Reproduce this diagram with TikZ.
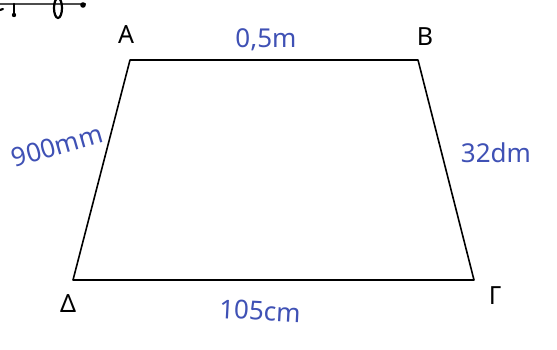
\documentclass[tikz,border=0pt]{standalone}
\usepackage{fontspec}
\setmainfont{Noto Sans}
\definecolor{ink}{RGB}{63,81,181}
\begin{document}
\begin{tikzpicture}[x=1pt,y=-1pt,
  edge/.style={line width=1.6pt,black,line join=round},
  vlabel/.style={font=\fontsize{25}{27}\selectfont,black,inner sep=0pt},
  mlabel/.style={font=\fontsize{26}{28}\selectfont,text=ink,inner sep=0pt}]
\useasboundingbox[fill=white] (0,0) rectangle (557,349);
% scribble at top left
\draw[gray!60!black,line width=1.2pt] (0,4) -- (86,4);
\draw[line width=2.2pt,line cap=round] (14,4) -- (14,14);
\fill (14,15) circle (2.2pt);
\draw[line width=2.2pt] (58,8) ellipse (4pt and 10pt);
\fill (83,5) circle (2.8pt);
\draw[line width=2.2pt,line cap=round] (0,10) -- (3,9);
% vertices
\coordinate (A) at (130,60);
\coordinate (B) at (418,60);
\coordinate (G) at (474,280);
\coordinate (D) at (73,280);
\draw[edge] (A) -- (B) -- (G) -- (D) -- cycle;
% vertex labels
\node[vlabel] (lA) at (126,35) {A};
\node[vlabel] (lB) at (425,37) {B};
\node[vlabel] (lG) at (495,296) {Γ};
\node[vlabel] (lD) at (68,304) {Δ};
% measures
\node[mlabel] (tAB) at (266,40) {0,5m};
\node[mlabel,rotate=16] (tAD) at (57,146) {900mm};
\node[mlabel] (tBG) at (496,153) {32dm};
\node[mlabel,rotate=-3] (tDG) at (260,311) {105cm};
\end{tikzpicture}
\end{document}
